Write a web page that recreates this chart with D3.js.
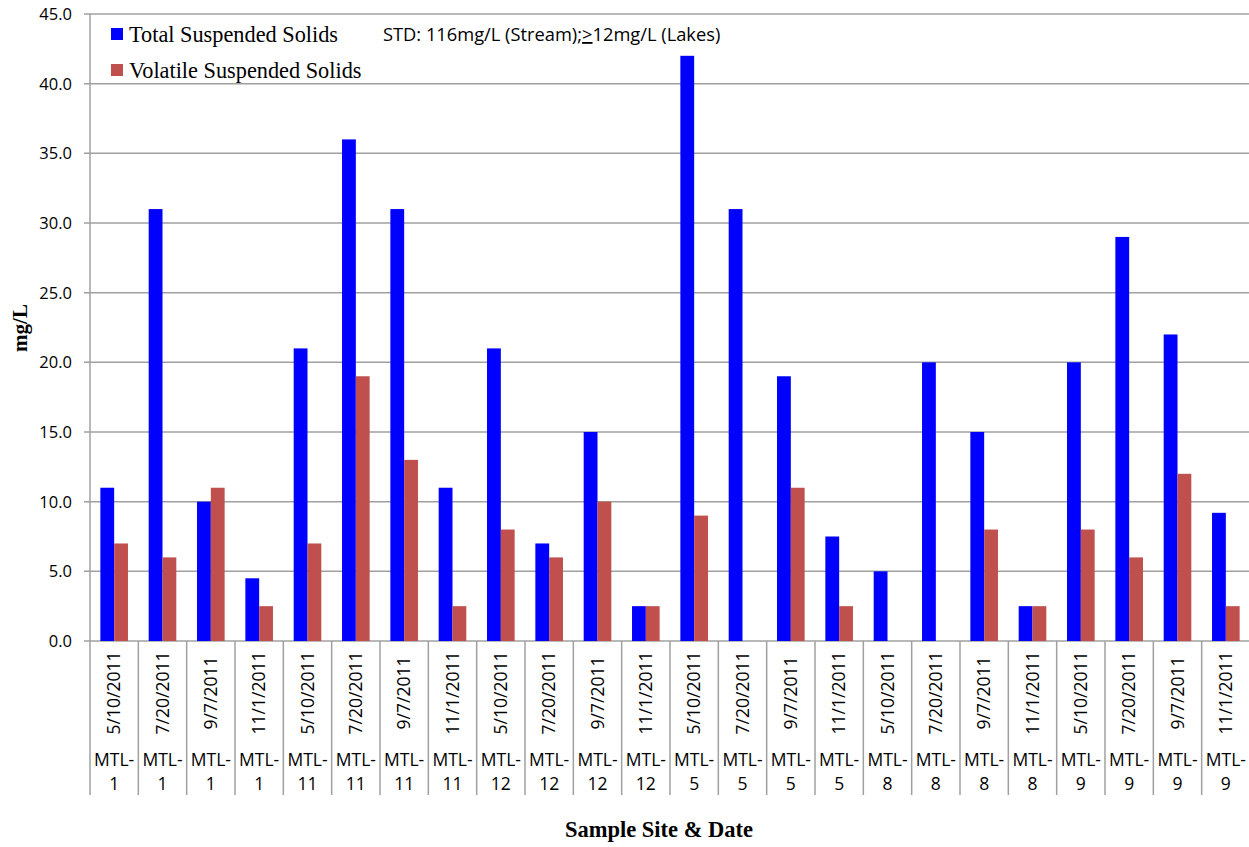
<!DOCTYPE html>
<html>
<head>
<meta charset="utf-8">
<script src="https://cdn.jsdelivr.net/npm/d3@7"></script>
<style>
  body { margin: 0; background: #fff; }
  svg { display: block; }
</style>
</head>
<body>
<svg id="chart" width="1249" height="847"></svg>
<script>
const sites = ["MTL-1","MTL-1","MTL-1","MTL-1","MTL-11","MTL-11","MTL-11","MTL-11","MTL-12","MTL-12","MTL-12","MTL-12","MTL-5","MTL-5","MTL-5","MTL-5","MTL-8","MTL-8","MTL-8","MTL-8","MTL-9","MTL-9","MTL-9","MTL-9"];
const dates = ["5/10/2011","7/20/2011","9/7/2011","11/1/2011","5/10/2011","7/20/2011","9/7/2011","11/1/2011","5/10/2011","7/20/2011","9/7/2011","11/1/2011","5/10/2011","7/20/2011","9/7/2011","11/1/2011","5/10/2011","7/20/2011","9/7/2011","11/1/2011","5/10/2011","7/20/2011","9/7/2011","11/1/2011"];
const tss = [11,31,10,4.5, 21,36,31,11, 21,7,15,2.5, 42,31,19,7.5, 5,20,15,2.5, 20,29,22,9.2];
const vss = [7,6,11,2.5, 7,19,13,2.5, 8,6,10,2.5, 9,null,11,2.5, null,null,8,2.5, 8,6,12,2.5];
const seriesNames = ["Total Suspended Solids","Volatile Suspended Solids"];
const seriesColors = ["#0000FF","#C0504D"];
const yTicks = [0,5,10,15,20,25,30,35,40,45];

(function () {
const svg = d3.select("#chart");
const pLeft = 90, pRight = 1250, pTop = 14, pBottom = 641;
const idx = d3.range(sites.length);

const x = d3.scaleBand().domain(idx).range([pLeft, pRight]).paddingInner(0).paddingOuter(0);
const step = x.bandwidth();
const barW = step / 3.5;
const y = d3.scaleLinear().domain([0,45]).range([pBottom, pTop]);

const gridColor = "#a0a0a0";
const numFont = "'Open Sans', sans-serif";
const catSize = "17.5px";

// gridlines
svg.append("g").selectAll("line").data(yTicks).join("line")
  .attr("x1", pLeft - 6).attr("x2", pRight)
  .attr("y1", d => y(d)).attr("y2", d => y(d))
  .attr("stroke", gridColor).attr("stroke-width", 1.5);

// y labels
svg.append("g").selectAll("text").data(yTicks).join("text")
  .attr("x", 72).attr("y", d => y(d)).attr("dy", "0.36em")
  .attr("text-anchor", "end")
  .style("font-family", numFont).style("font-size", "16.5px").attr("fill", "#000")
  .text(d => d.toFixed(1));

// y axis line
svg.append("line").attr("x1", pLeft).attr("x2", pLeft).attr("y1", pTop).attr("y2", pBottom)
  .attr("stroke", gridColor).attr("stroke-width", 1.5);

// category separators below axis
svg.append("g").selectAll("line").data(d3.range(sites.length + 1)).join("line")
  .attr("x1", d => pLeft + d * step).attr("x2", d => pLeft + d * step)
  .attr("y1", pBottom).attr("y2", 795)
  .attr("stroke", gridColor).attr("stroke-width", 1.5);

// bars
const groups = [tss, vss];
groups.forEach((vals, s) => {
  svg.append("g").selectAll("rect").data(idx.filter(i => vals[i] != null)).join("rect")
    .attr("x", i => x(i) + (step - 2 * barW) / 2 + s * barW)
    .attr("width", barW)
    .attr("y", i => y(vals[i]))
    .attr("height", i => y(0) - y(vals[i]))
    .attr("fill", seriesColors[s]);
});

// date labels (rotated)
svg.append("g").selectAll("text").data(idx).join("text")
  .attr("transform", i => `translate(${x(i) + step / 2},693) rotate(-90)`)
  .attr("text-anchor", "middle").attr("dy", "0.36em")
  .style("font-family", numFont).style("font-size", catSize).attr("fill", "#000")
  .text(i => dates[i]);

// site labels, two lines
const siteG = svg.append("g").selectAll("g").data(idx).join("g");
siteG.append("text")
  .attr("x", i => x(i) + step / 2).attr("y", 766)
  .attr("text-anchor", "middle")
  .style("font-family", numFont).style("font-size", catSize).attr("fill", "#000")
  .text(i => sites[i].split("-")[0] + "-");
siteG.append("text")
  .attr("x", i => x(i) + step / 2).attr("y", 790)
  .attr("text-anchor", "middle")
  .style("font-family", numFont).style("font-size", catSize).attr("fill", "#000")
  .text(i => sites[i].split("-")[1]);

// legend
const legend = svg.append("g");
seriesNames.forEach((name, s) => {
  legend.append("rect").attr("x", 111).attr("y", 28 + s * 36).attr("width", 12).attr("height", 12)
    .attr("fill", seriesColors[s]);
  legend.append("text").attr("x", 129).attr("y", 42 + s * 36)
    .style("font-family", "'Liberation Serif', 'Times New Roman', serif").style("font-size", "22.3px")
    .attr("fill", "#000").text(name);
});

// standard note
const std = svg.append("text").attr("x", 383).attr("y", 41)
  .style("font-family", numFont).style("font-size", "18.3px").attr("fill", "#000");
std.append("tspan").text("STD: 116mg/L (Stream);");
std.append("tspan").style("text-decoration", "underline").text(">");
std.append("tspan").text("12mg/L (Lakes)");

// axis titles
svg.append("text").attr("transform", "translate(27,328) rotate(-90)")
  .attr("text-anchor", "middle")
  .style("font-family", "'Liberation Serif', 'Times New Roman', serif").style("font-size", "21px")
  .style("font-weight", "bold").attr("fill", "#000").text("mg/L");

svg.append("text").attr("x", 659).attr("y", 837).attr("text-anchor", "middle")
  .style("font-family", "'Liberation Serif', 'Times New Roman', serif").style("font-size", "22.5px")
  .style("font-weight", "bold").attr("fill", "#000").text("Sample Site & Date");
})();
</script>
</body>
</html>
